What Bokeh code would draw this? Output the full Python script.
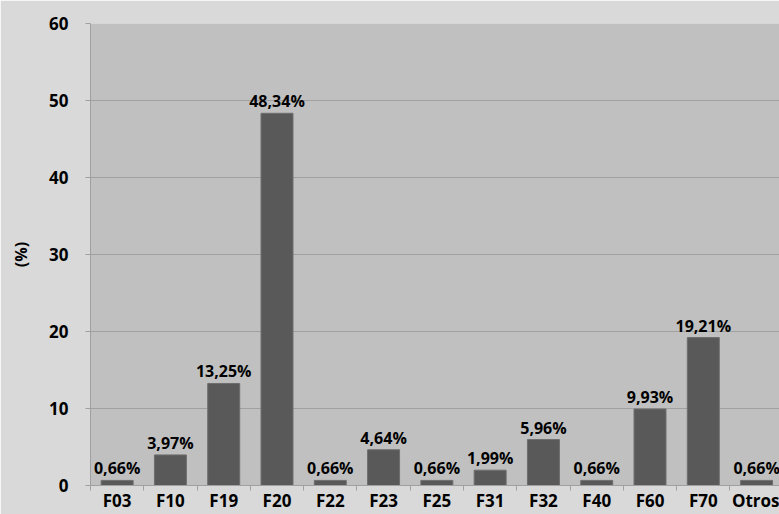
from bokeh.plotting import figure
from bokeh.models import ColumnDataSource, FixedTicker, Range1d
from bokeh.core.properties import value
from bokeh.embed import file_html
from bokeh.resources import INLINE

categories = ["F03", "F10", "F19", "F20", "F22", "F23", "F25", "F31", "F32", "F40", "F60", "F70", "Otros"]
values = [0.66, 3.97, 13.25, 48.34, 0.66, 4.64, 0.66, 1.99, 5.96, 0.66, 9.93, 19.21, 0.66]
labels = ["0,66%", "3,97%", "13,25%", "48,34%", "0,66%", "4,64%", "0,66%", "1,99%", "5,96%", "0,66%", "9,93%", "19,21%", "0,66%"]
y_ticks = [0, 10, 20, 30, 40, 50, 60]

xs = list(range(len(categories)))
src = ColumnDataSource(dict(x=xs, top=values, label=labels))

FONT = "Open Sans"
p = figure(width=779, height=514, output_backend="svg", toolbar_location=None,
           x_range=Range1d(-0.5, 12.43), y_range=Range1d(0, 60),
           min_border_left=90, min_border_right=0, min_border_top=23, min_border_bottom=0)
p.background_fill_color = "#c0c0c0"
p.border_fill_color = "#d9d9d9"
p.outline_line_color = None

p.vbar(x="x", top="top", width=0.6, source=src, fill_color="#595959", line_color="#6e6e6e", line_width=1)
p.text(x="x", y="top", text="label", source=src, text_align="center", text_baseline="alphabetic",
       y_offset=-12, text_font=value(FONT), text_font_style="bold", text_font_size="16px", text_color="#000000")

p.xgrid.grid_line_color = None
p.ygrid.grid_line_color = "#a0a0a0"
p.ygrid.ticker = FixedTicker(ticks=y_ticks)

p.yaxis.ticker = FixedTicker(ticks=y_ticks)
p.yaxis.axis_label = "(%)"
p.yaxis.axis_label_text_font = FONT
p.yaxis.axis_label_text_font_style = "bold"
p.yaxis.axis_label_text_font_size = "16px"
p.yaxis.axis_label_text_color = "#000000"
p.yaxis.axis_label_standoff = 14
p.yaxis.major_label_text_font = FONT
p.yaxis.major_label_text_font_style = "bold"
p.yaxis.major_label_text_font_size = "17px"
p.yaxis.major_label_text_color = "#000000"
p.yaxis.major_label_standoff = 17
p.yaxis.axis_line_color = "#a0a0a0"
p.yaxis.major_tick_line_color = "#a0a0a0"
p.yaxis.major_tick_in = 0
p.yaxis.major_tick_out = 5
p.yaxis.minor_tick_line_color = None

p.xaxis.ticker = FixedTicker(ticks=xs, minor_ticks=[i - 0.5 for i in range(len(categories) + 1)])
p.xaxis.major_label_overrides = {i: c for i, c in enumerate(categories)}
p.xaxis.major_label_text_font = FONT
p.xaxis.major_label_text_font_style = "bold"
p.xaxis.major_label_text_font_size = "17px"
p.xaxis.major_label_text_color = "#000000"
p.xaxis.major_label_standoff = -2
p.xaxis.axis_line_color = "#a0a0a0"
p.xaxis.major_tick_line_color = None
p.xaxis.major_tick_in = 0
p.xaxis.major_tick_out = 0
p.xaxis.minor_tick_line_color = "#a0a0a0"
p.xaxis.minor_tick_in = 0
p.xaxis.minor_tick_out = 5

open("out.html", "w").write(file_html(p, INLINE))
